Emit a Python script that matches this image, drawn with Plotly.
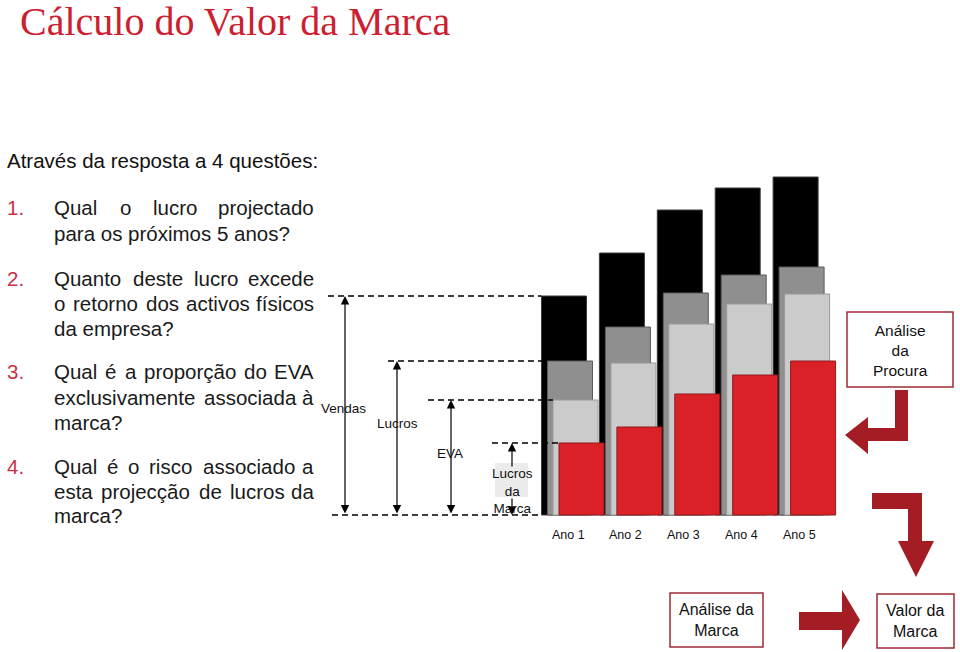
import plotly.graph_objects as go

# ---------------- data ----------------
years = ["Ano 1", "Ano 2", "Ano 3", "Ano 4", "Ano 5"]
vendas = [219, 262, 305, 327, 338]
lucros = [154, 188, 222, 240, 248]
eva = [115, 152, 191, 211, 221]
lucros_marca = [72, 88, 121, 140, 154]
series_names = ["Vendas", "Lucros", "EVA", "Lucros da Marca"]

title_text = "Cálculo do Valor da Marca"
intro_text = "Através da resposta a 4 questões:"
questions = [
    ["Qual o lucro projectado", "para os próximos 5 anos?"],
    ["Quanto deste lucro excede", "o retorno dos activos físicos", "da empresa?"],
    ["Qual é a proporção do EVA", "exclusivamente associada à", "marca?"],
    ["Qual é o risco associado a", "esta projecção de lucros da", "marca?"],
]
box_procura = "Análise<br>da<br>Procura"
box_analise = "Análise da<br>Marca"
box_valor = "Valor da<br>Marca"

# ---------------- layout helpers ----------------
W, H = 960, 652
X0_PX, STEP_PX = 564.0, 57.9
Y0_PX = 515.0
SANS = "Liberation Sans, Arial, sans-serif"
SERIF = "Liberation Serif, Times New Roman, serif"
RED_DARK = "#a51d24"
BOX_LINE = "#9e2b36"
FS = 20.5


def px2x(px):
    return 1 + (px - X0_PX) / STEP_PX


def py2y(py):
    return Y0_PX - py


def pxp(px):
    return px / W


def pyp(py):
    return 1 - py / H


ARIAL = {' ': 278, 'a': 556, 'b': 556, 'c': 500, 'd': 556, 'e': 556, 'f': 278, 'g': 556,
         'h': 556, 'i': 222, 'j': 222, 'k': 500, 'l': 222, 'm': 833, 'n': 556, 'o': 556,
         'p': 556, 'q': 556, 'r': 333, 's': 500, 't': 278, 'u': 556, 'v': 500, 'w': 722,
         'x': 500, 'y': 500, 'z': 500, 'A': 667, 'E': 667, 'V': 667, 'Q': 778, 'M': 833,
         'P': 667, 'á': 556, 'é': 556, 'í': 278, 'ó': 556, 'õ': 556, 'à': 556, 'ç': 500,
         'ã': 556, '?': 556, '.': 278, ':': 278}


def tw(s, size):
    return sum(ARIAL.get(ch, 556) for ch in s) * size / 1000.0


fig = go.Figure()

# ---------------- bars ----------------
bw = 45 / STEP_PX
xs = list(range(1, len(years) + 1))
bar_specs = [
    (vendas, 0.0, "#000000", "#3c3c3c"),
    (lucros, 6.0, "#8f8f8f", "#5a5a5a"),
    (eva, 11.5, "#cbcbcb", "#9a9a9a"),
    (lucros_marca, 17.5, "#da2128", "#8e1b1f"),
]
for (vals, shift_px, fc, lc), name in zip(bar_specs, series_names):
    fig.add_trace(go.Bar(
        x=xs, y=vals, name=name, width=bw, offset=shift_px / STEP_PX - bw / 2,
        marker=dict(color=fc, line=dict(color=lc, width=1)),
        hoverinfo="skip",
    ))

annotations = []
shapes = []


def text(x_px, y_px, s, size, color="#111111", xanchor="center", family=SANS):
    annotations.append(dict(x=pxp(x_px), y=pyp(y_px), xref="paper", yref="paper",
                            text=s, showarrow=False, xanchor=xanchor, yanchor="middle",
                            font=dict(family=family, size=size, color=color)))


# year labels
for i, lab in zip(xs, years):
    annotations.append(dict(x=i + 4 / STEP_PX, y=py2y(535), xref="x", yref="y", text=lab,
                            showarrow=False, font=dict(family=SANS, size=12.5, color="#111111")))

# dashed reference lines (Ano 1 values)
dash_specs = [
    (vendas[0], 328, 0.0),
    (lucros[0], 388, 6.0),
    (eva[0], 428, 11.5),
    (lucros_marca[0], 492, 17.5),
    (0, 332, 0.0),
]
for yv, xstart, shift_px in dash_specs:
    shapes.append(dict(type="line", xref="x", yref="y", x0=px2x(xstart),
                       x1=1 + shift_px / STEP_PX - bw / 2, y0=yv, y1=yv,
                       line=dict(color="#000000", width=1.3, dash="6px,4px")))

# gray patch behind "Lucros da"
shapes.append(dict(type="rect", xref="paper", yref="paper", x0=pxp(495), x1=pxp(528),
                   y0=pyp(497), y1=pyp(463), fillcolor="#ebebeb", line=dict(width=0),
                   layer="below"))


def arrow(x_px, y_head, y_tail, both=True):
    annotations.append(dict(x=px2x(x_px), y=y_head, ax=px2x(x_px), ay=y_tail,
                            xref="x", yref="y", axref="x", ayref="y", text="",
                            showarrow=True, arrowhead=2, arrowsize=1.4, arrowwidth=1.2,
                            arrowcolor="#000000",
                            arrowside="end+start" if both else "end",
                            startarrowhead=2, startarrowsize=1.4, standoff=0, startstandoff=0))


arrow(345, vendas[0], 0)
arrow(397, lucros[0], 0)
arrow(451, eva[0], 0)
arrow(512, lucros_marca[0], py2y(468), both=False)
arrow(512, 0, py2y(497), both=False)

text(343, 408, series_names[0], 13.5)
text(397, 423, series_names[1], 13.5)
text(450, 453, series_names[2], 13.5)
text(512, 491, "Lucros<br>da<br>Marca", 13.5)

# ---------------- title & question list ----------------
text(18, 21, title_text, 40, color="#cc2030", xanchor="left", family=SERIF)
text(5, 160, intro_text, FS, color="#111111", xanchor="left")

line_y = [[208, 233], [278, 303, 328], [371, 397, 422], [466, 491, 515]]
XL, XR = 53, 315
for qi, (lines, ys) in enumerate(zip(questions, line_y)):
    text(5, ys[0], f"{qi + 1}.", FS, color="#c83246", xanchor="left")
    for li, (ln, yy) in enumerate(zip(lines, ys)):
        last = li == len(lines) - 1
        words = ln.split(" ")
        if last or len(words) < 2:
            text(XL - 1, yy, ln, FS, color="#1a1a1a", xanchor="left")
            continue
        widths = [tw(w, FS) for w in words]
        gap = (XR - XL - sum(widths)) / (len(words) - 1)
        cx = XL
        for k, (w, wd) in enumerate(zip(words, widths)):
            if k == len(words) - 1:
                text(XR + 1, yy, w, FS, color="#1a1a1a", xanchor="right")
            else:
                text(cx - 1, yy, w, FS, color="#1a1a1a", xanchor="left")
            cx += wd + gap

# ---------------- right-hand flow boxes ----------------
def box(x0, y0, x1, y1):
    shapes.append(dict(type="rect", xref="paper", yref="paper", x0=pxp(x0), x1=pxp(x1),
                       y0=pyp(y1), y1=pyp(y0), fillcolor="white",
                       line=dict(color=BOX_LINE, width=1.5)))


def poly(points):
    path = "M " + " L ".join(f"{pxp(a):.5f},{pyp(b):.5f}" for a, b in points) + " Z"
    shapes.append(dict(type="path", xref="paper", yref="paper", path=path,
                       fillcolor=RED_DARK, line=dict(width=0)))


box(847, 312, 953, 387)
text(900, 350, box_procura, 15.5)

poly([(895, 390), (908, 390), (908, 441), (868, 441), (868, 454), (845, 435),
      (868, 417), (868, 428), (895, 428)])
poly([(872, 493), (922, 493), (922, 541), (934, 541), (916, 577), (898, 541),
      (908, 541), (908, 509), (872, 509)])

box(670, 593, 763, 647)
text(716, 620, box_analise, 16)
poly([(799, 612), (842, 612), (842, 590), (860, 620), (842, 650), (842, 630), (799, 630)])
box(877, 594, 954, 648)
text(915, 621, box_valor, 16)

fig.update_layout(
    width=W, height=H, margin=dict(l=0, r=0, t=0, b=0),
    paper_bgcolor="white", plot_bgcolor="white",
    barmode="overlay", showlegend=False,
    xaxis=dict(range=[px2x(0), px2x(W)], visible=False, fixedrange=True),
    yaxis=dict(range=[py2y(H), py2y(0)], visible=False, fixedrange=True),
    annotations=annotations, shapes=shapes,
)

fig.write_html("out.html", config={"displayModeBar": False},
               post_script="document.body.style.margin='0';document.body.style.overflow='hidden';")
